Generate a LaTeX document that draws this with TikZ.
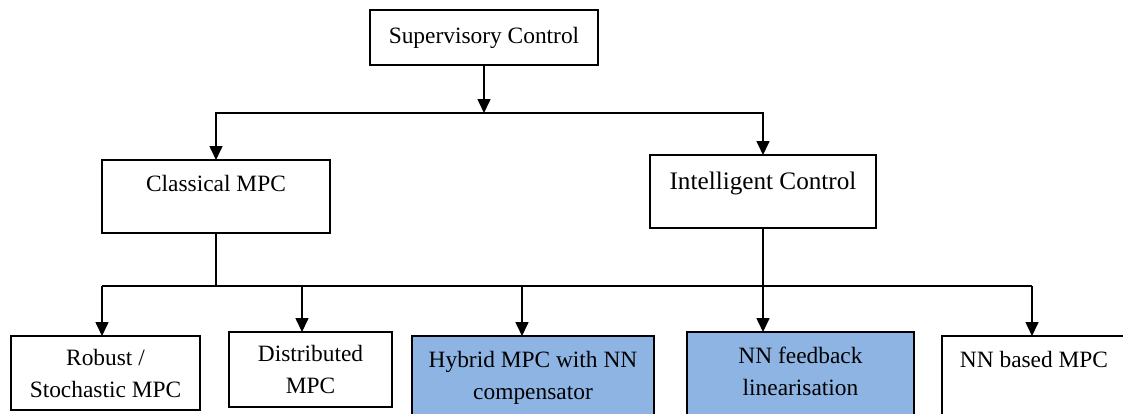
\documentclass[tikz,border=0pt]{standalone}
\usepackage{fontspec}
\setmainfont{Liberation Serif}
\usetikzlibrary{arrows.meta}
\definecolor{nnblue}{RGB}{142,180,227}

\begin{document}
\begin{tikzpicture}[x=0.5pt, y=-0.5pt, line width=0.8pt,
    every node/.style={font=\fontsize{11.7}{16}\selectfont},
    box/.style={draw, align=center, inner sep=0pt, outer sep=0pt},
    nnbox/.style={box, fill=nnblue},
    caption/.style={anchor=north, align=center, inner sep=0pt, yshift=-7pt},
    arrow/.style={-{Triangle[width=6.5pt,length=7pt]}}]

    \useasboundingbox (0,0) rectangle (1123,413);
    \clip (0,0) rectangle (1123,413);

    % top levels
    \node[box, minimum width=114pt, minimum height=27.5pt] (sup) at (484,37.5) {Supervisory Control};
    \node[box, minimum width=114pt, minimum height=36.5pt,
          label={[caption]north:Classical MPC}] (classical) at (216,196.5) {};
    \node[box, minimum width=113pt, minimum height=36.5pt,
          label={[caption, yshift=-1pt, font=\fontsize{12.6}{16}\selectfont]north:Intelligent Control}] (intel) at (763,191.5) {};

    % bottom row
    \node[box, minimum width=94.5pt, minimum height=37pt] (robust) at (105.5,373) {Robust /\\Stochastic MPC};
    \node[box, minimum width=81.5pt, minimum height=37.5pt] (distrib) at (310.5,369.5) {Distributed\\MPC};
    \node[nnbox, minimum width=121pt, minimum height=44pt,
          label={[caption]north:Hybrid MPC with NN\\compensator}] (hybrid) at (533,380) {};
    \node[nnbox, minimum width=113.5pt, minimum height=46pt,
          label={[caption]north:NN feedback\\linearisation}] (nnfb) at (800.5,378) {};
    \node[box, minimum width=92pt, minimum height=44pt,
          label={[caption]north:NN based MPC}] (nnbased) at (1034,380) {};

    % connectors
    \coordinate (upper bus) at (484,113);
    \coordinate (lower bus) at (216,286);
    \coordinate (d1) at (102,286);
    \coordinate (d2) at (302,286);
    \coordinate (d3) at (522,286);
    \coordinate (d4) at (1032,286);

    \draw[arrow] (sup.south) -- (upper bus);
    \draw[arrow] (upper bus) -| (classical.north);
    \draw[arrow] (upper bus) -| (intel.north);
    \draw (classical.south) -- (lower bus);
    \draw (d1) -- (d4);
    \foreach \d/\b in {d1/robust, d2/distrib, d3/hybrid, d4/nnbased}
      \draw[arrow] (\d) -- (\d |- \b.north);
    \draw[arrow] (intel.south) -- (nnfb.north -| intel.south);
\end{tikzpicture}
\end{document}
